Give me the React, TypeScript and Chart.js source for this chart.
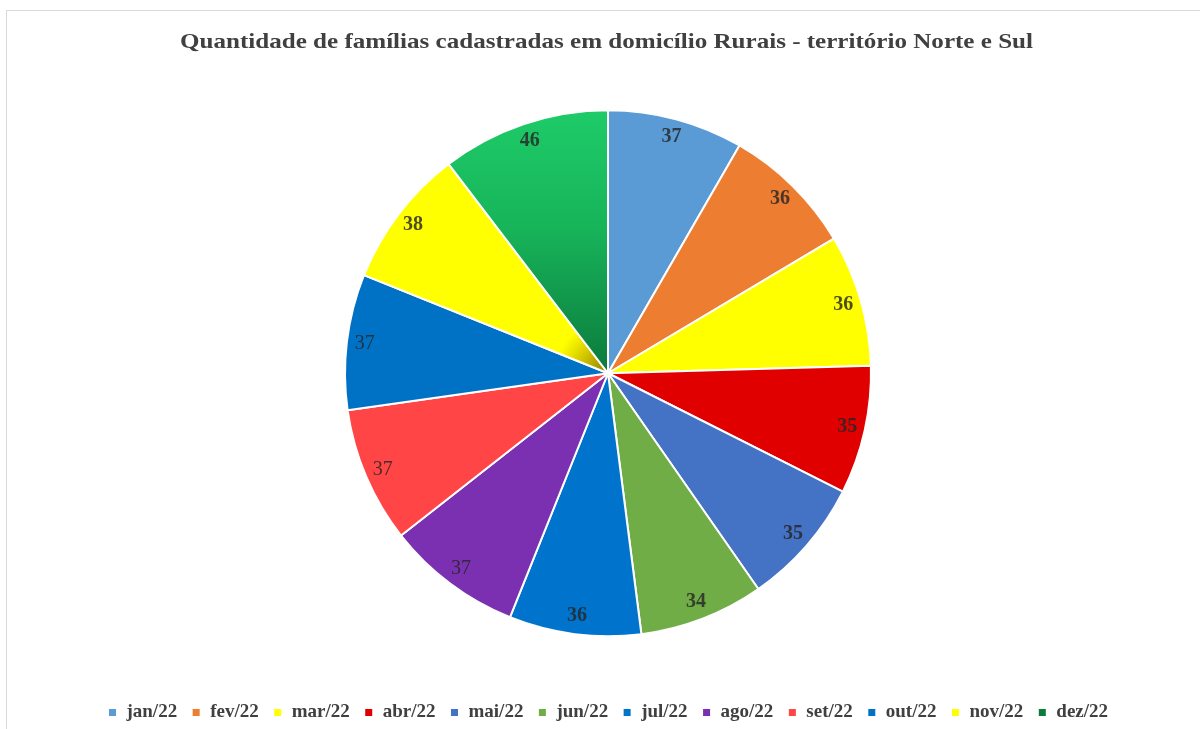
import React, { useEffect, useRef } from "react";
import { Chart, registerables } from "chart.js";

Chart.register(...registerables);

const TITLE = "Quantidade de famílias cadastradas em domicílio Rurais - território Norte e Sul";
const months = ["jan/22", "fev/22", "mar/22", "abr/22", "mai/22", "jun/22", "jul/22", "ago/22", "set/22", "out/22", "nov/22", "dez/22"];
const familias = [37, 36, 36, 35, 35, 34, 36, 37, 37, 37, 38, 46];
const sliceColors = ["#5B9BD5", "#ED7D31", "#FFFF00", "#E00000", "#4472C4", "#70AD47", "#0074CC", "#7A30B0", "#FF4545", "#0072C6", "#FFFF00", "#1CC665"];
const boldLabel = [true, true, true, true, true, true, true, false, false, false, true, true];

const SERIF = "'Liberation Serif', 'Times New Roman', serif";

const titlePlugin = {
  id: "stretchedTitle",
  afterDraw(chart: any) {
    const ctx = chart.ctx;
    ctx.save();
    ctx.font = `bold 22px ${SERIF}`;
    ctx.fillStyle = "#404040";
    ctx.textAlign = "center";
    ctx.textBaseline = "middle";
    const w = ctx.measureText(TITLE).width;
    const sx = 853 / w;
    ctx.translate(606.5, 42);
    ctx.scale(sx, 1);
    ctx.fillText(TITLE, 0, 0);
    ctx.restore();
  },
};

const labelPlugin = {
  id: "insideEndLabels",
  afterDatasetsDraw(chart: any) {
    const ctx = chart.ctx;
    const meta = chart.getDatasetMeta(0);
    ctx.save();
    ctx.fillStyle = "rgba(38,38,38,0.82)";
    ctx.textAlign = "center";
    ctx.textBaseline = "middle";
    meta.data.forEach((arc: any, i: number) => {
      const { x, y, startAngle, endAngle, outerRadius } = arc.getProps(["x", "y", "startAngle", "endAngle", "outerRadius"], true);
      const mid = (startAngle + endAngle) / 2;
      const r = outerRadius - 18;
      ctx.font = `${boldLabel[i] ? "bold " : ""}20px ${SERIF}`;
      ctx.fillText(String(familias[i]), x + Math.cos(mid) * r, y + Math.sin(mid) * r);
    });
    ctx.restore();
  },
};

function bg(context: any) {
  const i = context.dataIndex;
  const chart = context.chart;
  const area = chart.chartArea;
  if (!area) return sliceColors[i];
  const ctx = chart.ctx;
  const cx = (area.left + area.right) / 2;
  const cy = (area.top + area.bottom) / 2;
  if (i === 11) {
    const g = ctx.createLinearGradient(0, cy - 263, 0, cy);
    g.addColorStop(0, "#1ECB68");
    g.addColorStop(0.45, "#17B45A");
    g.addColorStop(1, "#0C7A3C");
    return g;
  }
  if (i === 10) {
    const g = ctx.createRadialGradient(cx, cy, 0, cx, cy, 263);
    g.addColorStop(0, "#8C7A00");
    g.addColorStop(0.12, "#D8CC00");
    g.addColorStop(0.2, "#FFFF00");
    g.addColorStop(1, "#FFFF00");
    return g;
  }
  return sliceColors[i];
}

export default function App() {
  const ref = useRef<HTMLCanvasElement>(null);
  useEffect(() => {
    if (!ref.current) return;
    const chart = new Chart(ref.current, {
      type: "pie",
      data: {
        labels: months,
        datasets: [
          {
            data: familias,
            backgroundColor: bg as any,
            borderColor: "#FFFFFF",
            borderWidth: 2,
            radius: 263,
          },
        ],
      },
      options: {
        responsive: false,
        animation: false,
        layout: { padding: { left: 16, right: 0, top: 58, bottom: 0 } },
        plugins: {
          title: { display: false },
          legend: {
            position: "bottom",
            labels: {
              boxWidth: 9,
              boxHeight: 9,
              padding: 14.5,
              color: "#404040",
              font: { family: SERIF, size: 19, weight: "bold" },
            },
          },
          tooltip: { enabled: false },
        },
      },
      plugins: [labelPlugin, titlePlugin],
    });
    return () => chart.destroy();
  }, []);
  return (
    <div style={{ position: "fixed", left: 0, top: 0, width: 1200, height: 729, background: "#FFFFFF", overflow: "hidden" }}>
      <div style={{ position: "absolute", left: 6, top: 10, right: 0, bottom: 0, borderLeft: "1px solid #D9D9D9", borderTop: "1px solid #D9D9D9" }} />
      <canvas ref={ref} width={1200} height={732} style={{ position: "absolute", left: 0, top: 0 }} />
    </div>
  );
}
